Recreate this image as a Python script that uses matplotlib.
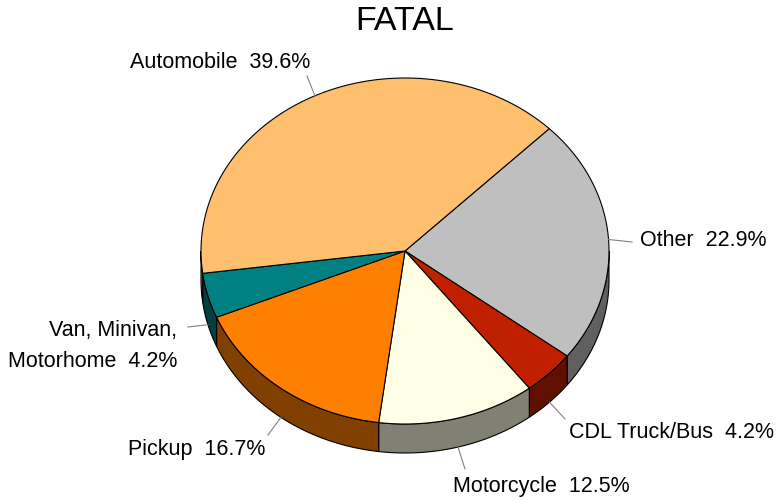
import numpy as np
import matplotlib
matplotlib.use("Agg")
import matplotlib.pyplot as plt
from matplotlib.patches import Polygon

plt.rcParams['font.family'] = ['Liberation Sans', 'DejaVu Sans']

# ---- data (clockwise from 45 deg) ----
categories = ["Other", "CDL Truck/Bus", "Motorcycle", "Pickup", "Van, Minivan,\nMotorhome", "Automobile"]
values = [22.9, 4.2, 12.5, 16.7, 4.2, 39.6]
top_colors = ["#BFBFBF", "#C02000", "#FFFFE5", "#FF8000", "#008080", "#FEBF6E"]
side_colors = ["#606060", "#601000", "#808073", "#804000", "#004040", "#7F6037"]
title = "FATAL"

# ---- geometry (pixel space) ----
W, H = 776, 502
cx, cy, rx, ry, depth = 405, 252, 204, 173, 29
start = 45.0

fig = plt.figure(figsize=(W / 100, H / 100), dpi=100)
ax = fig.add_axes([0, 0, 1, 1])
ax.set_xlim(0, W)
ax.set_ylim(H, 0)
ax.axis('off')

def pt(t, dz=0.0):
    r = np.radians(t)
    return cx + rx * np.cos(r), cy - ry * np.sin(r) + dz

total = sum(values)
angles = []
a = start
for v in values:
    span = v / total * 360.0
    angles.append((a - span, a))  # (t1, t2) counterclockwise range
    a -= span

# side walls (visible lower half)
for (t1, t2), sc in zip(angles, side_colors):
    for shift in (-360, 0, 360):
        lo, hi = max(t1 + shift, -180), min(t2 + shift, 0)
        if hi > lo:
            ts = np.linspace(lo, hi, 60)
            top = [pt(t) for t in ts]
            bot = [pt(t, depth) for t in ts[::-1]]
            ax.add_patch(Polygon(top + bot, closed=True, facecolor=sc,
                                 edgecolor='black', lw=0.8, zorder=1))

# top faces
for (t1, t2), tc in zip(angles, top_colors):
    ts = np.linspace(t1, t2, 120)
    poly = [(cx, cy)] + [pt(t) for t in ts]
    ax.add_patch(Polygon(poly, closed=True, facecolor=tc,
                         edgecolor='black', lw=0.8, zorder=2))

# labels with leader lines
pct_labels = [f"{c}  {v:.1f}%" for c, v in zip(categories, values)]
leader_end = [(632, 243), (565, 420), (465, 470), (268, 436), (188, 328), (307, 77)]
text_pos = [(640, 241, 'left'), (569, 433, 'left'), (453, 487, 'left'),
            (265, 450, 'right'), (177, 346, 'right'), (310, 62, 'right')]
for (t1, t2), lab, le, tp in zip(angles, pct_labels, leader_end, text_pos):
    mid = (t1 + t2) / 2.0
    m = ((mid + 180) % 360) - 180
    x0, y0 = pt(mid, depth if -180 < m < 0 else 0)
    ax.plot([x0, le[0]], [y0, le[1]], color='#808080', lw=0.8, zorder=3)
    ax.text(tp[0], tp[1], lab, ha=tp[2], va='center', fontsize=15.5,
            color='black', linespacing=1.6, zorder=4)

ax.text(405, 21, title, ha='center', va='center', fontsize=24.5, color='black')

fig.savefig("out.png", dpi=100)
